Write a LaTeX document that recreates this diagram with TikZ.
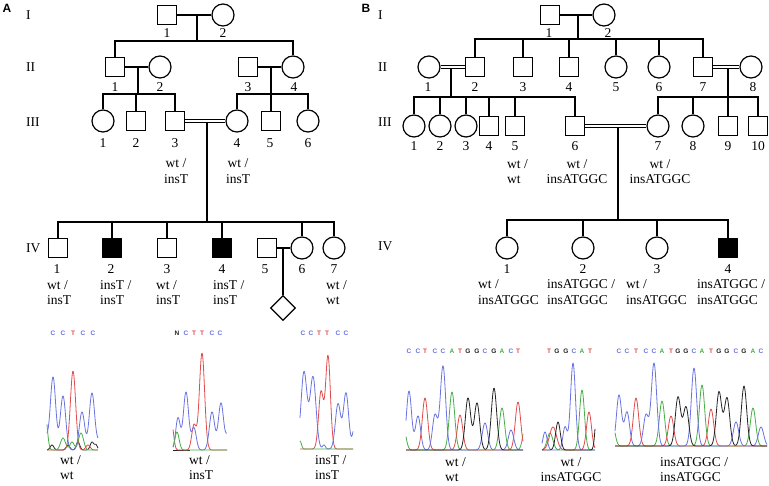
\documentclass[tikz,border=0pt]{standalone}
\usepackage{fontspec}
\setmainfont{Liberation Serif}
\newfontfamily\lsans{Liberation Sans}
\usetikzlibrary{shapes.geometric,calc}
\definecolor{cblue}{RGB}{105,115,225}
\definecolor{cred}{RGB}{225,75,75}
\definecolor{cgreen}{RGB}{70,175,70}
\definecolor{cblack}{RGB}{35,35,35}
\colorlet{seqC}{cblue}
\colorlet{seqT}{cred}
\colorlet{seqA}{cgreen}
\colorlet{seqG}{cblack}
\colorlet{seqN}{cblack}
\newcommand\seqrow[3]{% name, y, list of x/letter
  \foreach \xx/\l [count=\i] in {#3} {\node[seqt, text=seq\l] (#1-\i) at (\xx,#2) {\l};}}
\begin{document}
\begin{tikzpicture}[x=1pt,y=-1pt,
  male/.style={draw, rectangle, minimum size=19pt, inner sep=0pt, line width=1.2pt},
  female/.style={draw, circle, minimum size=22pt, inner sep=0pt, line width=1.2pt},
  aff/.style={fill=black},
  unk/.style={draw, diamond, minimum size=25pt, inner sep=0pt, line width=1.2pt},
  ln/.style={line width=1.2pt},
  cons/.style={line width=0.9pt, double, double distance=1.6pt},
  txt/.style={font=\fontsize{13.5}{15.5}\selectfont, inner sep=0pt},
  num/.style={txt},
  gen/.style={txt, anchor=west},
  geno/.style={txt, align=left, anchor=west},
  genoc/.style={txt, align=center},
  seqt/.style={font=\lsans\bfseries\fontsize{6.5}{7}\selectfont, inner sep=0pt},
  panel/.style={font=\lsans\bfseries\fontsize{12}{14}\selectfont, inner sep=0pt},
  trace/.style={line width=0.8pt, line join=round},
  declare function={gp(\gu,\gm,\gs)=exp(-((\gu-\gm)/\gs)*((\gu-\gm)/\gs));}
]
\useasboundingbox (0,0) rectangle (769,485);
\fill[white] (0,0) rectangle (769,485);

% ================= Panel A =================
\node[panel] (pA) at (7,8) {A};
\node[gen] (gAI) at (26,15) {I};
\node[gen] (gAII) at (26,67) {II};
\node[gen] (gAIII) at (26,122) {III};
\node[gen] (gAIV) at (26,248) {IV};

\node[male] (aI1) at (167,15) {};
\node[female] (aI2) at (223,15) {};
\node[male] (aII1) at (115,67) {};
\node[female] (aII2) at (160,67) {};
\node[male] (aII3) at (248,67) {};
\node[female] (aII4) at (293,67) {};
\node[female] (aIII1) at (103,121) {};
\node[male] (aIII2) at (136,121) {};
\node[male] (aIII3) at (175,121) {};
\node[female] (aIII4) at (237,121) {};
\node[male] (aIII5) at (271,121) {};
\node[female] (aIII6) at (308,121) {};
\node[male] (aIV1) at (58,248) {};
\node[male,aff] (aIV2) at (112,248) {};
\node[male] (aIV3) at (167,248) {};
\node[male,aff] (aIV4) at (222,248) {};
\node[male] (aIV5) at (267,248) {};
\node[female] (aIV6) at (302,248) {};
\node[female] (aIV7) at (334,248) {};
\node[unk] (aV1) at (283,308) {};

\coordinate (amI) at (197,15);   \coordinate (asI) at (197,41);
\coordinate (amII1) at (138,67); \coordinate (asII1) at (138,94);
\coordinate (amII2) at (271,67); \coordinate (asII2) at (271,94);
\coordinate (amIII) at (207,122.5); \coordinate (asIII) at (207,222);
\coordinate (amIV) at (283,248);

\draw[ln] (aI1) -- (aI2);
\draw[ln] (amI) -- (asI);
\draw[ln] (asI) -| (aII1.north);
\draw[ln] (asI) -| (aII4.north);
\draw[ln] (aII1) -- (aII2);
\draw[ln] (amII1) -- (asII1);
\foreach \n in {aIII1,aIII2,aIII3} \draw[ln] (asII1) -| (\n.north);
\draw[ln] (aII3) -- (aII4);
\draw[ln] (amII2) -- (aIII5.north);
\draw[ln] (asII2) -| (aIII4.north);
\draw[ln] (asII2) -| (aIII6.north);
\draw[cons] (aIII3) -- (aIII4);
\draw[ln] (amIII) -- (asIII);
\foreach \n in {aIV1,aIV2,aIV3,aIV4,aIV6,aIV7} \draw[ln] (asIII) -| (\n.north);
\draw[ln] (aIV5) -- (aIV6);
\draw[ln] (amIV) -- (aV1.north);

\foreach \xx/\t [count=\i] in {167/1,223/2} \node[num] (naI-\i) at (\xx,33) {\t};
\foreach \xx/\t [count=\i] in {115/1,160/2,248/3,294/4} \node[num] (naII-\i) at (\xx,87) {\t};
\foreach \xx/\t [count=\i] in {103/1,136/2,175/3,237/4,270/5,308/6} \node[num] (naIII-\i) at (\xx,143) {\t};
\foreach \xx/\t [count=\i] in {57/1,111/2,167/3,222/4,265/5,302/6,334/7} \node[num] (naIV-\i) at (\xx,269) {\t};

\node[genoc] (ga3) at (176,171) {wt /\\insT};
\node[genoc] (ga4) at (238,171) {wt /\\insT};
\node[geno] (gaIV1) at (47,292.5) {wt /\\insT};
\node[geno] (gaIV2) at (100,292.5) {insT /\\insT};
\node[geno] (gaIV3) at (156,292.5) {wt /\\insT};
\node[geno] (gaIV4) at (213,292.5) {insT /\\insT};
\node[geno] (gaIV7) at (326,292.5) {wt /\\wt};

% chromatograms A
\seqrow{sa1}{333}{53/C,63/C,73/T,83/C,93/C}
\seqrow{sa2}{333}{177/N,186/C,194/T,202/T,212/C,220/C}
\seqrow{sa3}{333}{303/C,311/C,319/T,327/T,338/C,346/C}

\draw[trace,cblack] plot[domain=47:98,samples=100] (\x,{450-5*gp(\x,52,2.5)-5*gp(\x,68,2.5)-8*gp(\x,78,2.5)-8*gp(\x,92,2.5)-5*gp(\x,96,2)});
\draw[trace,cred] plot[domain=47:98,samples=100] (\x,{450-79*gp(\x,73,3.7)-5*gp(\x,88,3)});
\draw[trace,cblue] plot[domain=47:98,samples=120] (\x,{450-73*gp(\x,53,3.8)-54*gp(\x,63,3.8)-38*gp(\x,82,3.8)-57*gp(\x,92,3.8)-12*gp(\x,46,3)-8*gp(\x,99,3)});
\draw[trace,cgreen] plot[domain=47:98,samples=100] (\x,{450-40*gp(\x,45,3)-8*gp(\x,72,3)-12*gp(\x,63,3.5)-17*gp(\x,81,3.5)});

\draw[trace,cblack] (173,450) -- (190,450);
\draw[trace,cred] plot[domain=173:227,samples=110] (\x,{450-24*gp(\x,172,2.5)-25*gp(\x,194,3.2)-97*gp(\x,202,3.7)});
\draw[trace,cblue] plot[domain=173:227,samples=110] (\x,{450-32*gp(\x,178,3.2)-58*gp(\x,186,3.7)-22*gp(\x,194,3.2)-38*gp(\x,212,3.7)-47*gp(\x,221,3.7)-15*gp(\x,228,3)});
\draw[trace,cgreen] plot[domain=173:227,samples=100] (\x,{450-18*gp(\x,177,3)});

\draw[trace,cred] plot[domain=300:353,samples=110] (\x,{449-57*gp(\x,321,3.4)-93*gp(\x,328,3.4)});
\draw[trace,cblue] plot[domain=300:353,samples=110] (\x,{449-77*gp(\x,304,4.2)-72*gp(\x,313,4.2)-4*gp(\x,324,2)-45*gp(\x,338,3.7)-56*gp(\x,346,3.7)-25*gp(\x,355,3)});
\draw[trace,cgreen] plot[domain=300:353,samples=100] (\x,{449-8*gp(\x,300,2)});

\node[geno] (cla1) at (60,467.5) {wt /\\wt};
\node[geno] (cla2) at (189,467.5) {wt /\\insT};
\node[geno] (cla3) at (315,467.5) {insT /\\insT};

% ================= Panel B =================
\node[panel] (pB) at (366,8) {B};
\node[gen] (gBI) at (378,15) {I};
\node[gen] (gBII) at (378,67) {II};
\node[gen] (gBIII) at (378,122) {III};
\node[gen] (gBIV) at (378,246) {IV};

\node[male] (bI1) at (550,15) {};
\node[female] (bI2) at (604,15) {};
\node[female] (bII1) at (429,67) {};
\node[male] (bII2) at (475,67) {};
\node[male] (bII3) at (523,67) {};
\node[male] (bII4) at (569,67) {};
\node[female] (bII5) at (616,67) {};
\node[female] (bII6) at (659,67) {};
\node[male] (bII7) at (703,67) {};
\node[female] (bII8) at (751,67) {};
\node[female] (bIII1) at (414,126) {};
\node[female] (bIII2) at (440,126) {};
\node[female] (bIII3) at (466,126) {};
\node[male] (bIII4) at (489,126) {};
\node[male] (bIII5) at (515,126) {};
\node[male] (bIII6) at (575,126) {};
\node[female] (bIII7) at (658,126) {};
\node[female] (bIII8) at (693,126) {};
\node[male] (bIII9) at (728,126) {};
\node[male] (bIII10) at (758,126) {};
\node[female] (bIV1) at (507,248) {};
\node[female] (bIV2) at (583,248) {};
\node[female] (bIV3) at (657,248) {};
\node[male,aff] (bIV4) at (728,248) {};

\coordinate (bmI) at (578,15);   \coordinate (bsI) at (578,39);
\coordinate (bmII1) at (451,68); \coordinate (bsII1) at (451,97);
\coordinate (bmII2) at (728,68); \coordinate (bsII2) at (728,97);
\coordinate (bmIII) at (618,127.5); \coordinate (bsIII) at (618,220);

\draw[ln] (bI1) -- (bI2);
\draw[ln] (bmI) -- (bsI);
\foreach \n in {bII2,bII3,bII4,bII5,bII6,bII7} \draw[ln] (bsI) -| (\n.north);
\draw[cons] (bII1) -- (bII2);
\draw[ln] (bmII1) -- (bsII1);
\foreach \n in {bIII1,bIII2,bIII3,bIII4,bIII5,bIII6} \draw[ln] (bsII1) -| (\n.north);
\draw[cons] (bII7) -- (bII8);
\draw[ln] (bmII2) -- (bIII9.north);
\foreach \n in {bIII7,bIII8,bIII10} \draw[ln] (bsII2) -| (\n.north);
\draw[cons] (bIII6) -- (bIII7);
\draw[ln] (bmIII) -- (bsIII);
\foreach \n in {bIV1,bIV2,bIV3,bIV4} \draw[ln] (bsIII) -| (\n.north);

\foreach \xx/\t [count=\i] in {549/1,608/2} \node[num] (nbI-\i) at (\xx,33) {\t};
\foreach \xx/\t [count=\i] in {428/1,475/2,523/3,569/4,616/5,659/6,703/7,753/8} \node[num] (nbII-\i) at (\xx,87) {\t};
\foreach \xx/\t [count=\i] in {414/1,440/2,466/3,489/4,515/5,575/6,658/7,693/8,728/9,758/10} \node[num] (nbIII-\i) at (\xx,146) {\t};
\foreach \xx/\t [count=\i] in {507/1,583/2,657/3,728/4} \node[num] (nbIV-\i) at (\xx,269) {\t};

\node[geno] (gb5) at (507,171.5) {wt /\\wt};
\node[genoc] (gb6) at (577,171.5) {wt /\\insATGGC};
\node[genoc] (gb7) at (660,171.5) {wt /\\insATGGC};
\node[geno] (gbIV1) at (478,292) {wt /\\insATGGC};
\node[geno] (gbIV2) at (547,292) {insATGGC /\\insATGGC};
\node[geno] (gbIV3) at (626,292) {wt /\\insATGGC};
\node[geno] (gbIV4) at (697,292) {insATGGC /\\insATGGC};

% chromatograms B
\seqrow{sb1}{351}{409/C,418/C,425/T,435/C,443/C,452/A,460/T,468/G,477/G,485/C,494/G,502/A,511/C,518/T}
\seqrow{sb2}{351}{549/T,557/G,566/G,574/C,582/A,590/T}
\seqrow{sb3}{351}{619/C,627/C,636/T,646/C,654/C,662/A,671/T,678/G,686/G,694/C,702/A,711/T,719/G,727/G,736/C,744/G,753/A,761/C}

\draw[trace,cgreen] plot[domain=406:523,samples=200] (\x,{450-25*gp(\x,403,3.8)-58*gp(\x,452,3.8)-42*gp(\x,502,3.8)-30*gp(\x,526,3.8)});
\draw[trace,cred] plot[domain=406:523,samples=200] (\x,{450-52*gp(\x,425,3.8)-35*gp(\x,460,3.8)-48*gp(\x,518,3.8)});
\draw[trace,cblue] plot[domain=406:523,samples=220] (\x,{450-59*gp(\x,409,3.6)-34*gp(\x,418,3.6)-35*gp(\x,435,3.6)-84*gp(\x,443,3.8)-27*gp(\x,485,3.8)-20*gp(\x,511,3.8)});
\draw[trace,cblack] plot[domain=406:523,samples=200] (\x,{450-52*gp(\x,468,3.8)-47*gp(\x,477,3.8)-62*gp(\x,494,3.8)});

\draw[trace,cgreen] plot[domain=542:595,samples=110] (\x,{450-17*gp(\x,550,4)-60*gp(\x,582,3.5)});
\draw[trace,cred] plot[domain=542:595,samples=110] (\x,{450-23*gp(\x,553,5)-38*gp(\x,589,3.5)});
\draw[trace,cblue] plot[domain=542:595,samples=110] (\x,{450-18*gp(\x,545,3)-23*gp(\x,565,3)-87*gp(\x,573,3.5)});
\draw[trace,cblack] plot[domain=542:595,samples=110] (\x,{450-28*gp(\x,558,3.3)-40*gp(\x,597,2.5)});

\draw[trace,cgreen] plot[domain=615:767,samples=260] (\x,{446-25*gp(\x,612,3.8)-45*gp(\x,662,3.8)-61*gp(\x,702,3.8)-38*gp(\x,753,3.8)});
\draw[trace,cred] plot[domain=615:767,samples=260] (\x,{446-48*gp(\x,636,3.8)-30*gp(\x,671,3.8)-37*gp(\x,711,3.8)});
\draw[trace,cblue] plot[domain=615:767,samples=280] (\x,{446-51*gp(\x,619,3.6)-34*gp(\x,627,3.6)-31*gp(\x,646,3.6)-83*gp(\x,654,3.8)-78*gp(\x,694,3.8)-24*gp(\x,736,3.8)-19*gp(\x,761,3.8)});
\draw[trace,cblack] plot[domain=615:767,samples=260] (\x,{446-49*gp(\x,678,3.8)-39*gp(\x,686,3.8)-54*gp(\x,719,3.8)-48*gp(\x,727,3.8)-60*gp(\x,744,3.8)});

\node[geno] (clb1) at (445,469.5) {wt /\\wt};
\node[genoc] (clb2) at (571,469.5) {wt /\\insATGGC};
\node[geno] (clb3) at (660,469.5) {insATGGC /\\insATGGC};
\end{tikzpicture}
\end{document}
